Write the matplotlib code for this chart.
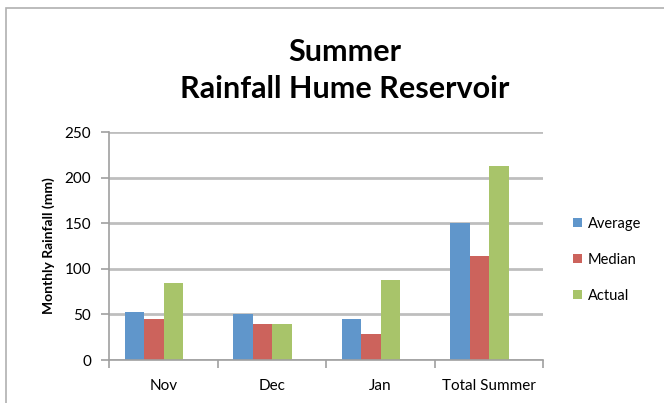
import matplotlib.pyplot as plt
import numpy as np
from matplotlib.patches import Rectangle

categories = ['Nov', 'Dec', 'Jan', 'Total Summer']
average = [53, 50, 45, 150]
median = [45, 40, 29, 114]
actual = [84, 40, 88, 213]
series_names = ['Average', 'Median', 'Actual']
colors = ['#6096CB', '#CC635C', '#A8C46A']

plt.rcParams['font.family'] = ['Lato', 'DejaVu Sans']

fig = plt.figure(figsize=(6.64, 4.03), dpi=100)
fig.patches.append(Rectangle((6 / 664, -0.1), 1.2, (403 - 8) / 403 + 0.1,
                             transform=fig.transFigure, fill=False,
                             edgecolor='#B0B0B0', linewidth=1.2))

ax = fig.add_axes([109 / 664, 43 / 403, 434 / 664, 228 / 403])
x = np.arange(len(categories))
w = 0.18
shift = -0.085  # groups sit a little left of the category centre
for i, (vals, name, c) in enumerate(zip([average, median, actual], series_names, colors)):
    ax.bar(x + shift + (i - 1) * w, vals, w, color=c, label=name, zorder=3)

ax.set_xlim(-0.5, 3.5)
ax.set_ylim(0, 250)
ax.set_yticks(range(0, 251, 50))
ax.yaxis.grid(True, color='#BEBEBE', linewidth=2, zorder=0)
ax.set_xticks(x)
ax.set_xticklabels(categories, fontsize=11)
ax.set_xticks(np.arange(-0.5, 3.6, 1), minor=True)
ax.tick_params(axis='x', which='major', length=0, pad=14)
ax.tick_params(axis='x', which='minor', length=6, color='#A0A0A0', width=1.2)
ax.tick_params(axis='y', length=6, color='#A0A0A0', width=1.2, labelsize=11, pad=7)
for s in ['top', 'right']:
    ax.spines[s].set_visible(False)
for s in ['left', 'bottom']:
    ax.spines[s].set_color('#A0A0A0')
    ax.spines[s].set_linewidth(1.2)
    ax.spines[s].set_zorder(4)

ax.set_ylabel('Monthly Rainfall (mm)', fontsize=10, fontweight='bold', labelpad=7)
fig.text(345 / 664, 1 - 52 / 403, 'Summer', ha='center', va='center',
         fontsize=22, fontweight='bold')
fig.text(345 / 664, 1 - 89 / 403, 'Rainfall Hume Reservoir', ha='center', va='center',
         fontsize=22, fontweight='bold')

ax.legend(loc='center left', bbox_to_anchor=(1.04, 0.44), frameon=False,
          fontsize=10.5, handlelength=0.6, handleheight=0.6, labelspacing=1.5,
          handletextpad=0.4)

fig.savefig('out.png', dpi=100)
